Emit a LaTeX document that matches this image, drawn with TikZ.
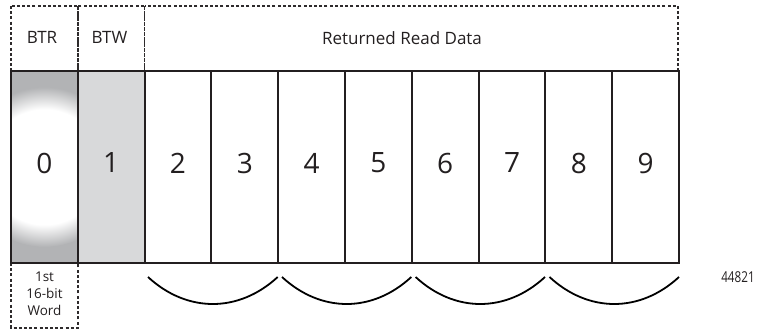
\documentclass[tikz,border=0pt]{standalone}
\usepackage{fontspec}
\setmainfont{Open Sans}
\definecolor{btrgray}{HTML}{B2B3B5}
\definecolor{btwgray}{HTML}{D8D9DA}
\definecolor{inkline}{HTML}{231F20}
\definecolor{dashline}{HTML}{2E2B2C}
\pgfdeclareradialshading{btrglow}{\pgfpoint{0bp}{0bp}}{color(0bp)=(white); color(18bp)=(white); color(25bp)=(btrgray); color(50bp)=(btrgray)}
\tikzset{
  cellline/.style={draw=inkline, line width=1.9pt},
  hdrbox/.style={draw=dashline, line width=1.5pt, dash pattern=on 3pt off 2.2pt},
  wordlabel/.style={inner sep=0pt, text=inkline, font=\fontsize{17}{20}\selectfont},
  wordnum/.style={inner sep=0pt, text=inkline, font=\fontsize{28}{32}\selectfont},
  pairarc/.style={draw=black, line width=1.8pt}
}

\begin{document}
\begin{tikzpicture}[x=1pt, y=-1pt]
\useasboundingbox (0,0) rectangle (759,331);

% Word fills
\fill[btrgray] (11,71) rectangle (77.8,263);
\begin{scope}
  \clip (11,71) rectangle (77.8,263);
  \shade[shading=btrglow] (44.4,167) circle[radius=80pt];
\end{scope}
\fill[btwgray] (77.8,71) rectangle (144.6,263);

% Header boxes
\draw[hdrbox] (11,6) rectangle (77.8,71);     % BTR
\draw[hdrbox] (77.8,6) rectangle (144.6,71);  % BTW
\draw[hdrbox] (144.6,6) rectangle (678,71);   % returned data
\draw[hdrbox] (11,263) rectangle (77.8,328);  % first word

% Words 0-9
\draw[cellline] (11,71) rectangle (679,263);
\draw[cellline] (77.8,71) -- (77.8,263);
\draw[cellline] (144.6,71) -- (144.6,263);
\draw[cellline] (211.4,71) -- (211.4,263);
\draw[cellline] (278.2,71) -- (278.2,263);
\draw[cellline] (345,71) -- (345,263);
\draw[cellline] (411.8,71) -- (411.8,263);
\draw[cellline] (478.6,71) -- (478.6,263);
\draw[cellline] (545.4,71) -- (545.4,263);
\draw[cellline] (612.2,71) -- (612.2,263);

\node[wordlabel] (btr) at (42,37.5) {BTR};
\node[wordlabel] (btw) at (109.5,37.5) {BTW};
\node[wordlabel] (retdata) at (402,38) {Returned Read Data};

\node[wordnum] (w0) at (44.4,163) {0};
\node[wordnum] (w1) at (111.2,163) {1};
\node[wordnum] (w2) at (178,163) {2};
\node[wordnum] (w3) at (244.8,163) {3};
\node[wordnum] (w4) at (311.6,163) {4};
\node[wordnum] (w5) at (378.4,163) {5};
\node[wordnum] (w6) at (445.2,163) {6};
\node[wordnum] (w7) at (512,163) {7};
\node[wordnum] (w8) at (578.8,163) {8};
\node[wordnum] (w9) at (645.6,163) {9};

\node[inner sep=0pt, text=inkline, align=center,
      font=\fontsize{13.5}{17}\selectfont] (firstword) at (44.5,294) {1st\\16-bit\\Word};

% Word pairs
\coordinate (p1s) at (148,277);
\coordinate (p1e) at (277.7,277);
\coordinate (p2s) at (282,277);
\coordinate (p2e) at (411.3,277);
\coordinate (p3s) at (415.6,277);
\coordinate (p3e) at (545,277);
\coordinate (p4s) at (549.5,277);
\coordinate (p4e) at (679,277);
\draw[pairarc] (p1s) .. controls (187,313) and (238.7,313) .. (p1e);
\draw[pairarc] (p2s) .. controls (321,313) and (372.3,313) .. (p2e);
\draw[pairarc] (p3s) .. controls (454.6,313) and (506,313) .. (p3e);
\draw[pairarc] (p4s) .. controls (588.5,313) and (640,313) .. (p4e);

% Figure number
\node[inner sep=0pt, text=inkline, font=\fontsize{15}{18}\selectfont] (figno) at (738,277) {\scalebox{0.78}[1]{44821}};
\end{tikzpicture}
\end{document}
